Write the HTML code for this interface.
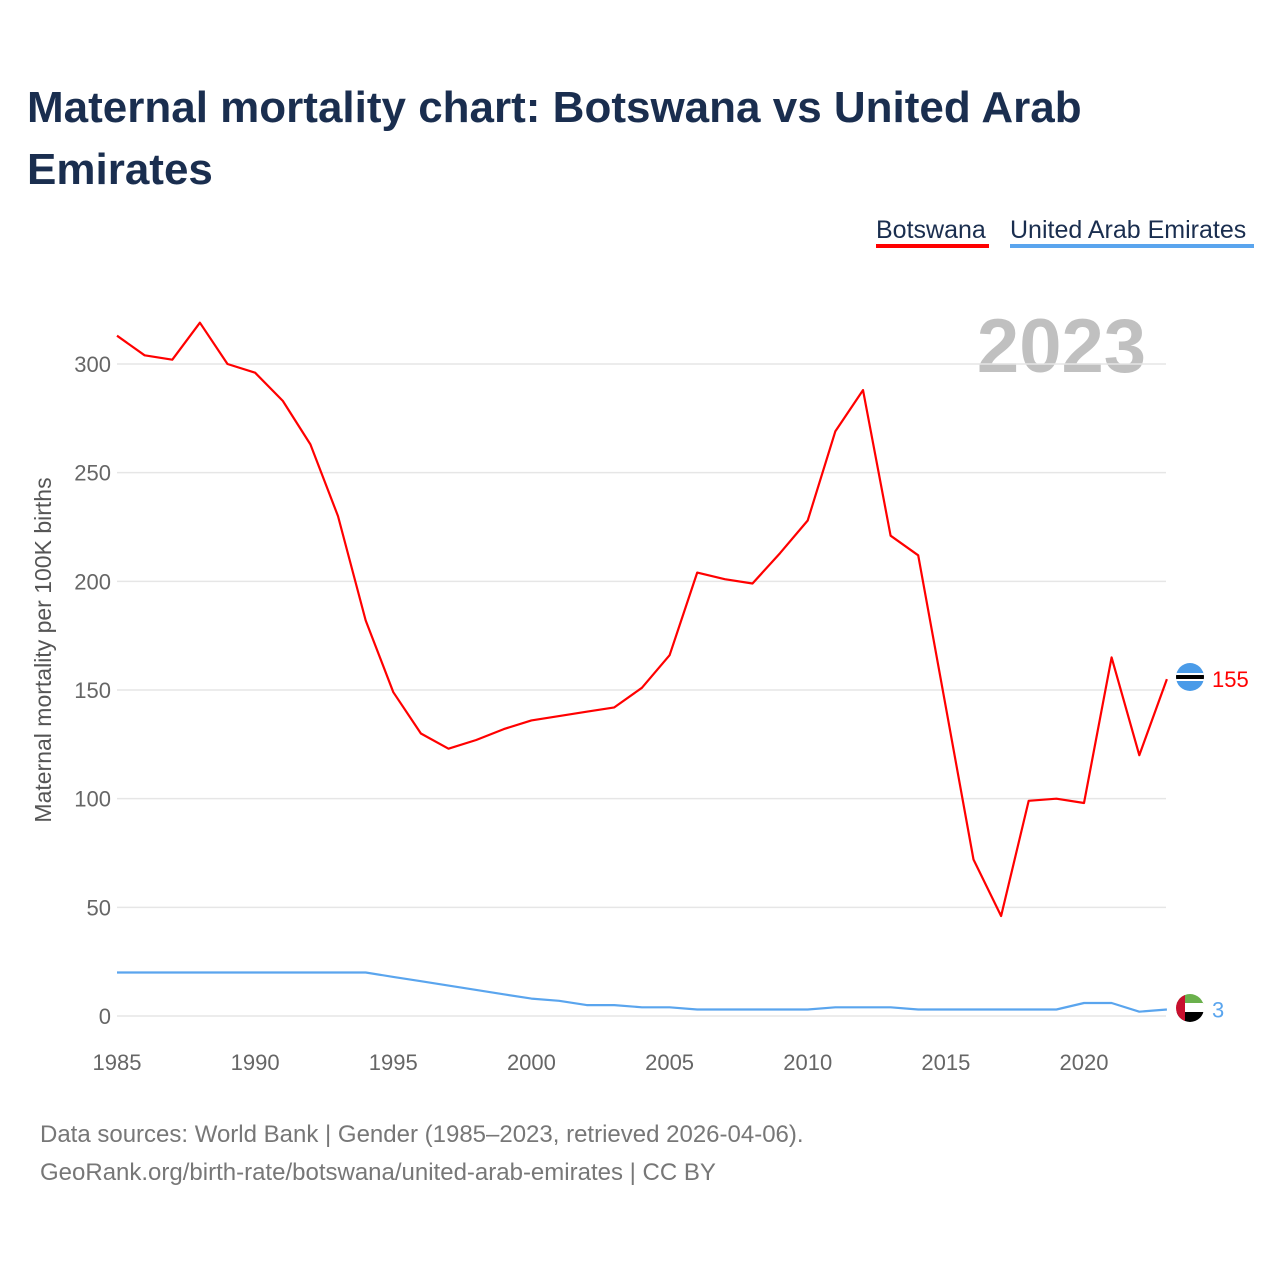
<!DOCTYPE html>
<html><head><meta charset="utf-8"><style>
body{margin:0;background:#fff;font-family:"Liberation Sans",sans-serif;}
#wrap{position:relative;width:1280px;height:1280px;overflow:hidden;}
</style></head><body>
<div id="wrap">
<svg id="chart" width="1280" height="1280">
<text x="27" y="122" font-size="44" font-weight="bold" fill="#1a2e4f">Maternal mortality chart: Botswana vs United Arab</text>
<text x="27" y="184" font-size="44" font-weight="bold" fill="#1a2e4f">Emirates</text>
<g>
<text x="876" y="238" font-size="25" fill="#1a2e4f">Botswana</text>
<rect x="876" y="244" width="113" height="4" fill="#ff0000"/>
<text x="1010" y="238" font-size="25" fill="#1a2e4f">United Arab Emirates</text>
<rect x="1010" y="244" width="244" height="4" fill="#5aa5ee"/>
</g>
<text x="1146" y="372" font-size="76" font-weight="bold" fill="#c0c0c0" text-anchor="end">2023</text>
<g id="grid"></g><g id="yt"></g><g id="xt"></g><g id="lines"></g>
<text transform="translate(51,650) rotate(-90)" font-size="23" fill="#555" text-anchor="middle">Maternal mortality per 100K births</text>
<g>
<clipPath id="c1"><circle cx="1190" cy="677" r="14"/></clipPath>
<g clip-path="url(#c1)"><rect x="1176" y="663" width="28" height="28" fill="#4a9be8"/><rect x="1176" y="673" width="28" height="8" fill="#fff"/><rect x="1176" y="675" width="28" height="4" fill="#000"/></g>
</g>
<g>
<clipPath id="c2"><circle cx="1190" cy="1008" r="14"/></clipPath>
<g clip-path="url(#c2)"><rect x="1176" y="994" width="28" height="10" fill="#6ab04c"/><rect x="1176" y="1003" width="28" height="10" fill="#fff"/><rect x="1176" y="1012" width="28" height="10" fill="#000"/><rect x="1176" y="994" width="9" height="28" fill="#c8102e"/></g>
</g>
<text x="40" y="1142" font-size="24" fill="#777">Data sources: World Bank | Gender (1985–2023, retrieved 2026-04-06).</text>
<text x="40" y="1180" font-size="24" fill="#777">GeoRank.org/birth-rate/botswana/united-arab-emirates | CC BY</text>
</svg></div>
<script>
const years=[1985,1986,1987,1988,1989,1990,1991,1992,1993,1994,1995,1996,1997,1998,1999,2000,2001,2002,2003,2004,2005,2006,2007,2008,2009,2010,2011,2012,2013,2014,2015,2016,2017,2018,2019,2020,2021,2022,2023];
const botswana=[313,304,302,319,300,296,283,263,230,182,149,130,123,127,132,136,138,140,142,151,166,204,201,199,213,228,269,288,221,212,142,72,46,99,100,98,165,120,155];
const uae=[20,20,20,20,20,20,20,20,20,20,18,16,14,12,10,8,7,5,5,4,4,3,3,3,3,3,4,4,4,3,3,3,3,3,3,6,6,2,3];
const yTicks=[0,50,100,150,200,250,300];
const xTicks=[1985,1990,1995,2000,2005,2010,2015,2020];
const NS="http://www.w3.org/2000/svg";
const x=v=>117+(v-1985)*(1084-117)/35;
const y=v=>1016-v*(1016-364)/300;
function mk(tag,attrs,parent,txt){const e=document.createElementNS(NS,tag);for(const k in attrs)e.setAttribute(k,attrs[k]);if(txt!==undefined)e.textContent=txt;document.getElementById(parent).appendChild(e);return e;}
yTicks.forEach(t=>{
 const l=mk('line',{x1:117,x2:1166,y1:y(t),y2:y(t),stroke:'#e6e6e6','stroke-width':1.5},'grid');
 
 
 const tx=mk('text',{x:111,y:y(t)+8,'font-size':22,fill:'#666','text-anchor':'end'},'yt',String(t));
 
 
});
xTicks.forEach(t=>{
 const tx=mk('text',{x:x(t),y:1070,'font-size':22,fill:'#666','text-anchor':'middle'},'xt',String(t));
 
 
});
function line(data,color,name){
 const d=data.map((v,i)=>(i?'L':'M')+x(years[i]).toFixed(1)+','+y(v).toFixed(1)).join('');
 const p=mk('path',{d:d,fill:'none',stroke:color,'stroke-width':2.2,'stroke-linejoin':'round'},'lines');
 
 
 const last=data[data.length-1];
 const t=mk('text',{x:1212,y:y(last)+8,'font-size':22,fill:color},'lines',String(last));
 
 
}
line(botswana,'#ff0000','botswana-line');
line(uae,'#5aa5ee','uae-line');
</script>
</body></html>
